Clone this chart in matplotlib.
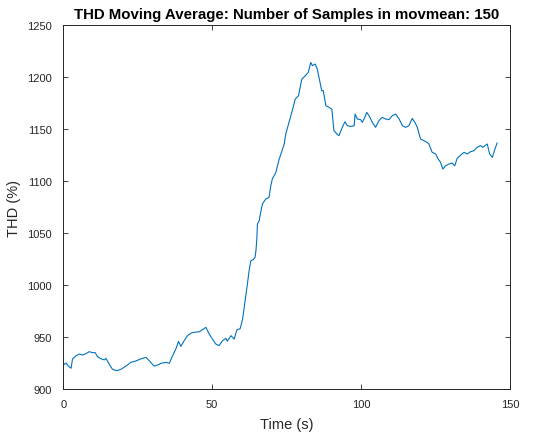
import numpy as np
import matplotlib.pyplot as plt

# THD moving average (movmean, 150 samples)
time_s = [0.0, 0.9, 1.7, 2.6, 3.1, 4.3, 5.4, 6.5, 7.6, 8.7, 9.8, 10.7, 11.5, 12.7,
          13.8, 14.3, 15.4, 16.5, 17.9, 19.4, 21.0, 22.7, 24.4, 26.1, 27.8, 28.9,
          30.5, 31.6, 32.8, 34.5, 35.6, 36.7, 37.8, 38.7, 39.5, 40.6, 41.7, 42.9,
          44.0, 45.6, 46.7, 47.9, 49.0, 50.1, 51.2, 52.3, 53.5, 54.6, 55.1, 56.3,
          57.4, 58.3, 59.4, 60.2, 60.7, 61.3, 61.8, 62.4, 63.0, 63.8, 64.4, 64.7,
          65.0, 65.2, 65.8, 66.3, 66.9, 68.0, 69.1, 69.7, 70.2, 71.4, 72.5, 73.1,
          74.2, 74.7, 75.8, 76.9, 77.9, 79.0, 80.1, 81.2, 82.3, 83.1, 83.7, 84.6,
          85.3, 86.1, 86.8, 87.3, 88.2, 89.3, 90.2, 90.9, 92.0, 92.6, 93.7, 94.6,
          95.4, 96.5, 97.7, 98.0, 98.8, 99.9, 100.4, 101.3, 101.9, 102.7, 103.8,
          104.9, 106.0, 107.1, 108.3, 109.4, 110.5, 111.6, 112.8, 113.9, 115.0,
          116.1, 117.2, 118.1, 118.9, 120.0, 121.1, 122.2, 122.8, 123.9, 125.1,
          125.9, 126.7, 127.5, 128.4, 129.5, 130.6, 131.5, 132.3, 133.5, 134.6,
          135.7, 136.8, 137.9, 139.0, 140.2, 140.9, 142.4, 143.2, 144.1, 145.0, 145.7]
thd_pct = [923, 925, 922, 920, 929, 932, 933.6, 932.7, 934, 935.9, 935, 935, 931, 929,
           928, 929.5, 924, 919, 917.6, 919, 922, 925.7, 927, 929, 930.5, 927,
           922, 923, 924.7, 925.6, 924.7, 932, 938.5, 945.8, 941, 946.5, 951.3, 953.8,
           954.5, 955, 957, 959.3, 952.9, 948, 943.3, 941.7, 946.5, 948.7, 946, 951.3,
           948, 957, 958, 967, 977, 990, 1000, 1013.8, 1023.4, 1024.4, 1026.6, 1033,
           1044, 1058.7, 1061.8, 1070, 1078, 1082.7, 1084.3, 1095.5, 1102, 1108.3, 1121, 1126,
           1135.6, 1145, 1156.4, 1167.6, 1178.8, 1182, 1198, 1201, 1204.5, 1214, 1210.9, 1212.5,
           1207.7, 1196.5, 1186.8, 1187, 1172.4, 1170.8, 1169, 1148.4, 1145, 1143.6, 1151.6, 1157,
           1153.2, 1152.5, 1153.2, 1164.4, 1159.6, 1159, 1156.4, 1161.2, 1166, 1162.8, 1156.4,
           1151.6, 1158, 1161.2, 1159.6, 1159, 1162.8, 1164.4, 1159.6, 1153.2, 1151.6,
           1153.2, 1160.2, 1156.4, 1151.6, 1140.4, 1138.8, 1137.2, 1135.6, 1127.6, 1126,
           1121.2, 1118, 1111.5, 1114.7, 1116.3, 1117.3, 1114.7, 1121.8, 1125, 1127.6,
           1126, 1128.2, 1129.1, 1132.4, 1134, 1132.4, 1135.6, 1126, 1122.8, 1130.8, 1136.5]

x_ticks = [0, 50, 100, 150]
y_ticks = [900, 950, 1000, 1050, 1100, 1150, 1200, 1250]

plt.rcParams['font.family'] = ['Liberation Sans', 'DejaVu Sans']
axis_col = '#262626'

fig = plt.figure(figsize=(5.38, 4.35), dpi=100)
ax = fig.add_axes([0.1177, 0.1034, 0.830, 0.8368])

ax.plot(time_s, thd_pct, color='#0072BD', linewidth=0.8)

ax.set_xlim(0, 150)
ax.set_ylim(900, 1250)
ax.set_xticks(x_ticks)
ax.set_yticks(y_ticks)
ax.tick_params(direction='in', length=3.5, width=0.6, colors=axis_col,
               labelsize=8, top=True, right=True)
ax.tick_params(axis='y', pad=8)
ax.tick_params(axis='x', pad=7)
for s in ax.spines.values():
    s.set_color(axis_col)
    s.set_linewidth(0.7)

ax.set_title('THD Moving Average: Number of Samples in movmean: 150',
             fontsize=10.8, fontweight='bold', color='black', pad=5)
ax.set_xlabel('Time (s)', fontsize=10.5, color=axis_col, labelpad=6)
ax.set_ylabel('THD (%)', fontsize=10.5, color=axis_col, labelpad=5)

fig.savefig('out.png', dpi=100)
